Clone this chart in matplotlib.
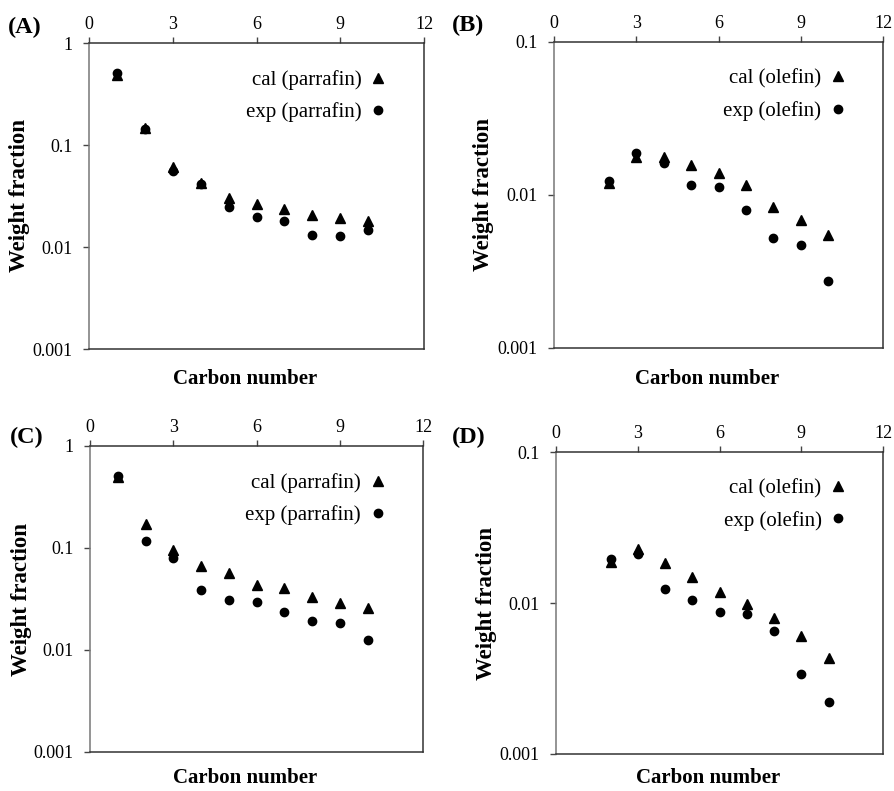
import matplotlib
matplotlib.use("Agg")
import matplotlib.pyplot as plt
from matplotlib.ticker import FixedLocator, NullLocator

plt.rcParams["font.family"] = ["Liberation Serif", "DejaVu Serif"]

carbon_par = [1, 2, 3, 4, 5, 6, 7, 8, 9, 10]
carbon_ole = [2, 3, 4, 5, 6, 7, 8, 9, 10]

# panel A - paraffin
cal_a = [0.49, 0.147, 0.061, 0.042, 0.030, 0.0266, 0.0236, 0.0204, 0.0191, 0.018]
exp_a = [0.51, 0.143, 0.055, 0.041, 0.0245, 0.0197, 0.0179, 0.0132, 0.0129, 0.0146]
# panel B - olefin
cal_b = [0.0119, 0.0177, 0.0177, 0.0156, 0.0139, 0.0117, 0.0084, 0.0069, 0.0055]
exp_b = [0.0124, 0.0189, 0.0162, 0.0117, 0.0112, 0.0080, 0.0052, 0.0047, 0.00275]
# panel C - paraffin
cal_c = [0.50, 0.17, 0.095, 0.067, 0.057, 0.0434, 0.0408, 0.0333, 0.0287, 0.026]
exp_c = [0.51, 0.118, 0.080, 0.0385, 0.0307, 0.0298, 0.0234, 0.0192, 0.0185, 0.0124]
# panel D - olefin
cal_d = [0.0187, 0.0227, 0.0184, 0.0149, 0.0119, 0.0098, 0.0080, 0.0060, 0.0043]
exp_d = [0.0195, 0.0212, 0.0124, 0.0104, 0.0087, 0.0084, 0.0065, 0.0034, 0.0022]

xticks = [0, 3, 6, 9, 12]
yticks_par = [0.001, 0.01, 0.1, 1]
ylabels_par = ["0.001", "0.01", "0.1", "1"]
yticks_ole = [0.001, 0.01, 0.1]
ylabels_ole = ["0.001", "0.01", "0.1"]

W, H = 894, 791
fig = plt.figure(figsize=(8.94, 7.91), dpi=100)


def panel(rect, letter, lpos, x, cal, exp, kind, yticks, ylabels, ylim, ylab_x, xlab_y):
    l, t, r, b = rect
    ax = fig.add_axes([l / W, 1 - b / H, (r - l) / W, (b - t) / H])
    ax.plot(x, cal, linestyle="none", marker="^", color="black", markersize=6.5,
            label="cal (%s)" % kind)
    ax.plot(x, exp, linestyle="none", marker="o", color="black", markersize=6,
            label="exp (%s)" % kind)
    ax.set_yscale("log")
    ax.set_xlim(0, 12)
    ax.set_ylim(*ylim)
    ax.xaxis.set_major_locator(FixedLocator(xticks))
    ax.yaxis.set_major_locator(FixedLocator(yticks))
    ax.yaxis.set_minor_locator(NullLocator())
    ax.set_yticklabels(ylabels)
    ax.xaxis.tick_top()
    ax.tick_params(axis="both", direction="out", length=4, width=1, labelsize=13,
                   color="#444444")
    ax.tick_params(axis="x", pad=3)
    ax.tick_params(axis="y", pad=8)
    for s in ax.spines.values():
        s.set_linewidth(1.1)
        s.set_color("#333333")
    ax.spines["left"].set_color("#777777")
    ax.text(0.465, (b - xlab_y) / (b - t), "Carbon number", transform=ax.transAxes,
            ha="center", va="center", fontsize=15, fontweight="bold")
    ax.text(ylab_x, 0.5, "Weight fraction", transform=ax.transAxes, ha="center",
            va="center", rotation=90, fontsize=16.5, fontweight="bold")
    fig.text(lpos[0] / W, 1 - lpos[1] / H, letter, ha="left", va="center",
             fontsize=17.5, fontweight="bold")
    ax.legend(loc="upper right", bbox_to_anchor=(0.895, 0.912), frameon=False,
              markerfirst=False, fontsize=15, handlelength=1.0,
              handletextpad=0.3, labelspacing=0.6, borderpad=0, borderaxespad=0)
    return ax


panel((89, 43, 424, 349), "(A)", (8, 27), carbon_par, cal_a, exp_a, "parrafin",
      yticks_par, ylabels_par, (0.001, 1), -0.206, 379)
panel((554, 42, 883, 348), "(B)", (452, 25), carbon_ole, cal_b, exp_b, "olefin",
      yticks_ole, ylabels_ole, (0.001, 0.1), -0.213, 379)
panel((90, 446, 423, 752), "(C)", (10, 437), carbon_par, cal_c, exp_c, "parrafin",
      yticks_par, ylabels_par, (0.001, 1), -0.206, 778)
panel((556, 452, 883, 754), "(D)", (452, 437), carbon_ole, cal_d, exp_d, "olefin",
      yticks_ole, ylabels_ole, (0.001, 0.1), -0.213, 778)

fig.savefig("out.png", dpi=100)
